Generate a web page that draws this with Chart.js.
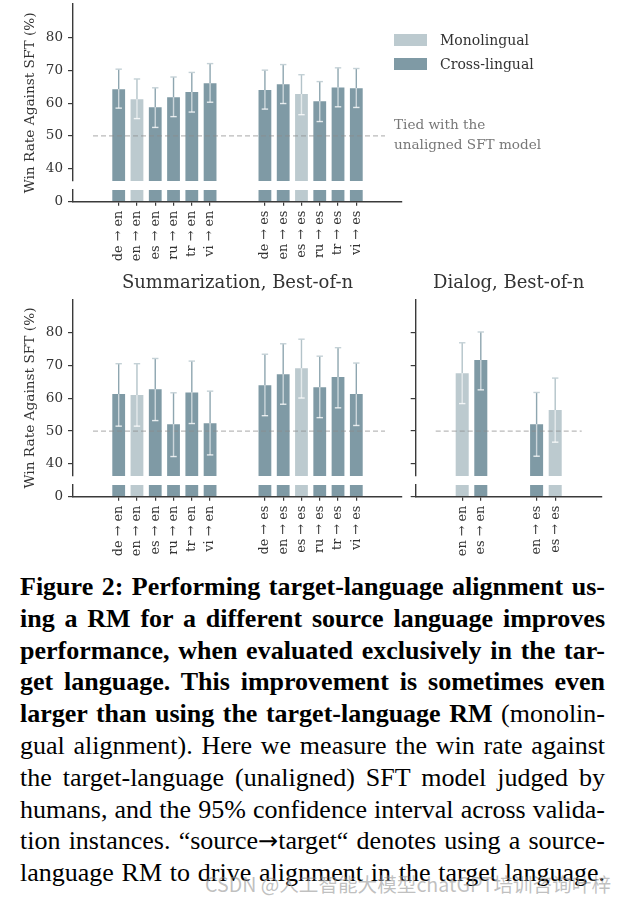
<!DOCTYPE html>
<html><head><meta charset="utf-8">
<script src="https://cdn.jsdelivr.net/npm/chart.js@4.4.1/dist/chart.umd.min.js"></script>
<style>
html,body{margin:0;padding:0;background:#fff;}
body{width:625px;height:904px;position:relative;overflow:hidden;}
canvas{position:absolute;}
.sw{position:absolute;width:33px;height:12px;}
.lt{position:absolute;font-family:'DejaVu Serif',serif;font-size:14px;line-height:20px;white-space:nowrap;}
#cap{position:absolute;left:20px;top:571px;width:585px;font-family:'Liberation Serif','Times New Roman',serif;font-size:26px;line-height:31.8px;color:#000;}
#cap div{text-align:justify;text-align-last:justify;white-space:nowrap;height:31.8px;}
#cap b{font-weight:bold;}
#cap .ar{font-family:'DejaVu Sans',sans-serif;font-size:24px;}
#wm{position:absolute;left:205px;top:871px;font-family:'Noto Sans CJK SC',sans-serif;font-size:19.6px;line-height:26px;color:rgba(150,150,150,0.6);white-space:nowrap;}
</style></head>
<body>
<canvas id="cA" width="420" height="270" style="left:0;top:0;width:420px;height:270px"></canvas>
<canvas id="cB" width="420" height="300" style="left:0;top:270px;width:420px;height:300px"></canvas>
<canvas id="cC" width="225" height="300" style="left:400px;top:270px;width:225px;height:300px"></canvas>

<div class="sw" style="left:394px;top:34px;background:#bccacf"></div>
<div class="lt" style="left:440px;top:30px;color:#333">Monolingual</div>
<div class="sw" style="left:394px;top:58px;background:#7f9aa5"></div>
<div class="lt" style="left:440px;top:54px;color:#333">Cross-lingual</div>
<div class="lt" style="left:394px;top:114px;color:#777;font-size:13.6px">Tied with the</div>
<div class="lt" style="left:394px;top:134px;color:#777;font-size:13.6px">unaligned SFT model</div>

<div id="cap">
<div><b>Figure 2: Performing target-language alignment us-</b></div>
<div><b>ing a RM for a different source language improves</b></div>
<div><b>performance, when evaluated exclusively in the tar-</b></div>
<div><b>get language. This improvement is sometimes even</b></div>
<div><b>larger than using the target-language RM</b> (monolin-</div>
<div>gual alignment). Here we measure the win rate against</div>
<div>the target-language (unaligned) SFT model judged by</div>
<div>humans, and the 95% confidence interval across valida-</div>
<div>tion instances. “source<span class="ar">→</span>target“ denotes using a source-</div>
<div>language RM to drive alignment in the target language.</div>
</div>
<div id="wm">CSDN @人工智能大模型chatGPT培训咨询叶梓</div>

<script>
// ---------------- DATA ----------------
const toEn = ['de → en','en → en','es → en','ru → en','tr → en','vi → en'];
const toEs = ['de → es','en → es','es → es','ru → es','tr → es','vi → es'];

// Top panel
const topWin  = [64.3, 61.2, 58.8, 61.8, 63.4, 66.1, 64.0, 65.8, 62.8, 60.6, 64.8, 64.6];
const topLow  = [58.5, 55.3, 52.6, 55.9, 57.3, 60.3, 58.2, 59.9, 56.5, 54.4, 58.9, 58.7];
const topHigh = [70.4, 67.4, 64.7, 68.0, 69.4, 72.1, 70.1, 71.8, 68.7, 66.6, 70.8, 70.6];

// Summarization, Best-of-n
const sumWin  = [61.3, 61.0, 62.8, 52.1, 61.8, 52.4, 64.0, 67.4, 69.2, 63.4, 66.5, 61.3];
const sumLow  = [51.5, 51.5, 53.2, 42.2, 52.3, 42.7, 54.7, 58.2, 60.1, 54.1, 57.1, 51.7];
const sumHigh = [70.6, 70.6, 72.2, 61.7, 71.4, 62.2, 73.5, 76.7, 78.1, 72.9, 75.5, 70.8];

// Dialog, Best-of-n
const dlgEn = ['en → en','es → en'];
const dlgEs = ['en → es','es → es'];
const dlgWin  = [67.7, 71.7, 52.1, 56.4];
const dlgLow  = [58.4, 62.6, 42.3, 46.6];
const dlgHigh = [77.0, 80.3, 61.8, 66.2];

const upperTicks = [40, 50, 60, 70, 80];
const lowerTicks = [0];
const tiedLevel = 50;
const UP_MIN = 36.24, UP_MAX = 90.3, LOW_MAX = 3.57;

// ---------------- STYLE ----------------
const DARK = '#7f9aa5', LIGHT = '#bccacf', AXIS = '#3a3a3a', TEXT = '#333333';
const SERIF = "'DejaVu Serif', serif";

function isMono(l){ const p = l.split(' → '); return p[0] === p[1]; }
function barColor(ctx){ return ctx.raw && isMono(ctx.raw.x) ? LIGHT : DARK; }

const overlayPlugin = {
  id: 'overlay',
  afterDatasetsDraw(chart, args, o) {
    const ctx = chart.ctx, a = chart.chartArea, ys = chart.scales.yUp;
    const ty = ys.getPixelForValue(o.tied);
    ctx.save();
    ctx.strokeStyle = 'rgba(140,140,140,0.6)';
    ctx.lineWidth = 1.2;
    ctx.setLineDash([5, 3]);
    ctx.beginPath(); ctx.moveTo(a.left + o.insetL, ty); ctx.lineTo(a.right - o.insetR, ty); ctx.stroke();
    ctx.setLineDash([]);
    const ds = chart.data.datasets[0];
    const meta = chart.getDatasetMeta(0);
    const ln = (x1,y1,x2,y2)=>{ctx.beginPath();ctx.moveTo(x1,y1);ctx.lineTo(x2,y2);ctx.stroke();};
    meta.data.forEach((bar, i) => {
      const x = bar.x, top = bar.y;
      const yh = ys.getPixelForValue(ds.errHigh[i]);
      const yl = ys.getPixelForValue(ds.errLow[i]);
      const mono = isMono(ds.data[i].x);
      ctx.lineWidth = 1.4;
      ctx.strokeStyle = mono ? '#b3c3c9' : '#8ea6b0';
      ln(x, yh, x, top);
      ctx.strokeStyle = 'rgba(255,255,255,0.6)';
      ln(x, top, x, yl);
      ctx.strokeStyle = '#c4d1d6';
      ln(x - 3.2, yh, x + 3.2, yh);
      ctx.strokeStyle = 'rgba(255,255,255,0.8)';
      ln(x - 3.2, yl, x + 3.2, yl);
    });
    ctx.restore();
  },
  afterDraw(chart, args, o) {
    if (!o.yTitle) return;
    const ctx = chart.ctx, a = chart.chartArea;
    ctx.save();
    ctx.translate(o.yTitleX, (a.top + a.bottom) / 2);
    ctx.rotate(-Math.PI / 2);
    ctx.font = '13.7px ' + SERIF;
    ctx.fillStyle = TEXT;
    ctx.textAlign = 'center';
    ctx.textBaseline = 'middle';
    ctx.fillText(o.yTitle, 0, 0);
    ctx.restore();
  }
};

function makeChart(id, c) {
  const real = c.groups[0].concat(c.groups[1]);
  const axisLabels = ['', ''].concat(c.groups[0], ['', ''], c.groups[1], ['', '']);
  const fixY = s => { s.width = c.yWidth; s.paddingTop = 0; s.paddingBottom = 0; s.paddingLeft = 0; s.paddingRight = 0; };
  const tickFont = {family: SERIF, size: 13.5};
  const tickColor = c.showYLabels ? TEXT : 'rgba(0,0,0,0)';
  const barOpts = {grouped: false, categoryPercentage: 1, barPercentage: 0.7, backgroundColor: barColor, borderWidth: 0};
  return new Chart(document.getElementById(id), {
    type: 'bar',
    data: {
      labels: axisLabels,
      datasets: [
        Object.assign({label: 'upper', data: real.map((l, i) => ({x: l, y: c.win[i]})), yAxisID: 'yUp', base: UP_MIN,
          errLow: c.low, errHigh: c.high}, barOpts),
        Object.assign({label: 'lower', data: real.map((l, i) => ({x: l, y: Math.min(c.win[i], LOW_MAX)})), yAxisID: 'yLow'}, barOpts)
      ]
    },
    options: {
      responsive: false,
      animation: false,
      layout: {padding: c.padding},
      plugins: {
        legend: {display: false},
        tooltip: {enabled: false},
        title: c.title ? {display: true, text: c.title, fullSize: false, color: TEXT,
          font: {family: SERIF, size: 18, weight: 'normal'}, padding: {top: 3, bottom: 4.7}} : {display: false},
        overlay: {tied: tiedLevel, insetL: 20, insetR: c.insetR, yTitle: c.yTitle, yTitleX: 30}
      },
      scales: {
        x: {
          type: 'category', offset: true,
          grid: {offset: false, drawOnChartArea: false, drawTicks: true, tickLength: 4, lineWidth: 1.2,
            color: ctx => (ctx.tick && ctx.tick.label) ? AXIS : 'rgba(0,0,0,0)'},
          border: {color: AXIS, width: 1.4},
          ticks: {autoSkip: false, minRotation: 90, maxRotation: 90, color: TEXT, padding: 5,
            font: {family: SERIF, size: 12.8}},
          afterFit: s => { s.height = c.xHeight; s.paddingLeft = 0; s.paddingRight = 0; s.paddingTop = 0; s.paddingBottom = 0; }
        },
        yUp: {
          type: 'linear', position: 'left', stack: 'v', stackWeight: 177, weight: 3,
          min: UP_MIN, max: UP_MAX,
          afterBuildTicks: s => { s.ticks = upperTicks.map(v => ({value: v})); },
          grid: {drawOnChartArea: false, tickLength: 5, color: AXIS, lineWidth: 1.2},
          border: {color: AXIS, width: 1.4},
          ticks: {font: tickFont, color: tickColor, padding: 5},
          afterFit: fixY
        },
        yGap: {
          type: 'linear', position: 'left', stack: 'v', stackWeight: 9, weight: 2,
          grid: {display: false}, border: {display: false}, ticks: {display: false},
          afterFit: fixY
        },
        yLow: {
          type: 'linear', position: 'left', stack: 'v', stackWeight: 11.7, weight: 1,
          min: 0, max: LOW_MAX,
          afterBuildTicks: s => { s.ticks = lowerTicks.map(v => ({value: v})); },
          grid: {drawOnChartArea: false, tickLength: 5, color: AXIS, lineWidth: 1.2},
          border: {color: AXIS, width: 1.4},
          ticks: {font: tickFont, color: tickColor, padding: 5},
          afterFit: fixY
        }
      }
    },
    plugins: [overlayPlugin]
  });
}

makeChart('cA', {groups: [toEn, toEs], win: topWin, low: topLow, high: topHigh,
  yWidth: 73, padding: {top: 4, left: 0, right: 18, bottom: 0}, xHeight: 68.3,
  showYLabels: true, yTitle: 'Win Rate Against SFT (%)', insetR: 17});

makeChart('cB', {groups: [toEn, toEs], win: sumWin, low: sumLow, high: sumHigh, title: 'Summarization, Best-of-n',
  yWidth: 73, padding: {top: 0, left: 0, right: 18, bottom: 0}, xHeight: 73.3,
  showYLabels: true, yTitle: 'Win Rate Against SFT (%)', insetR: 17});

makeChart('cC', {groups: [dlgEn, dlgEs], win: dlgWin, low: dlgLow, high: dlgHigh, title: 'Dialog, Best-of-n',
  yWidth: 15.7, padding: {top: 0, left: 0, right: 23.3, bottom: 0}, xHeight: 73.3,
  showYLabels: false, yTitle: null, insetR: 20});
</script>
</body></html>
